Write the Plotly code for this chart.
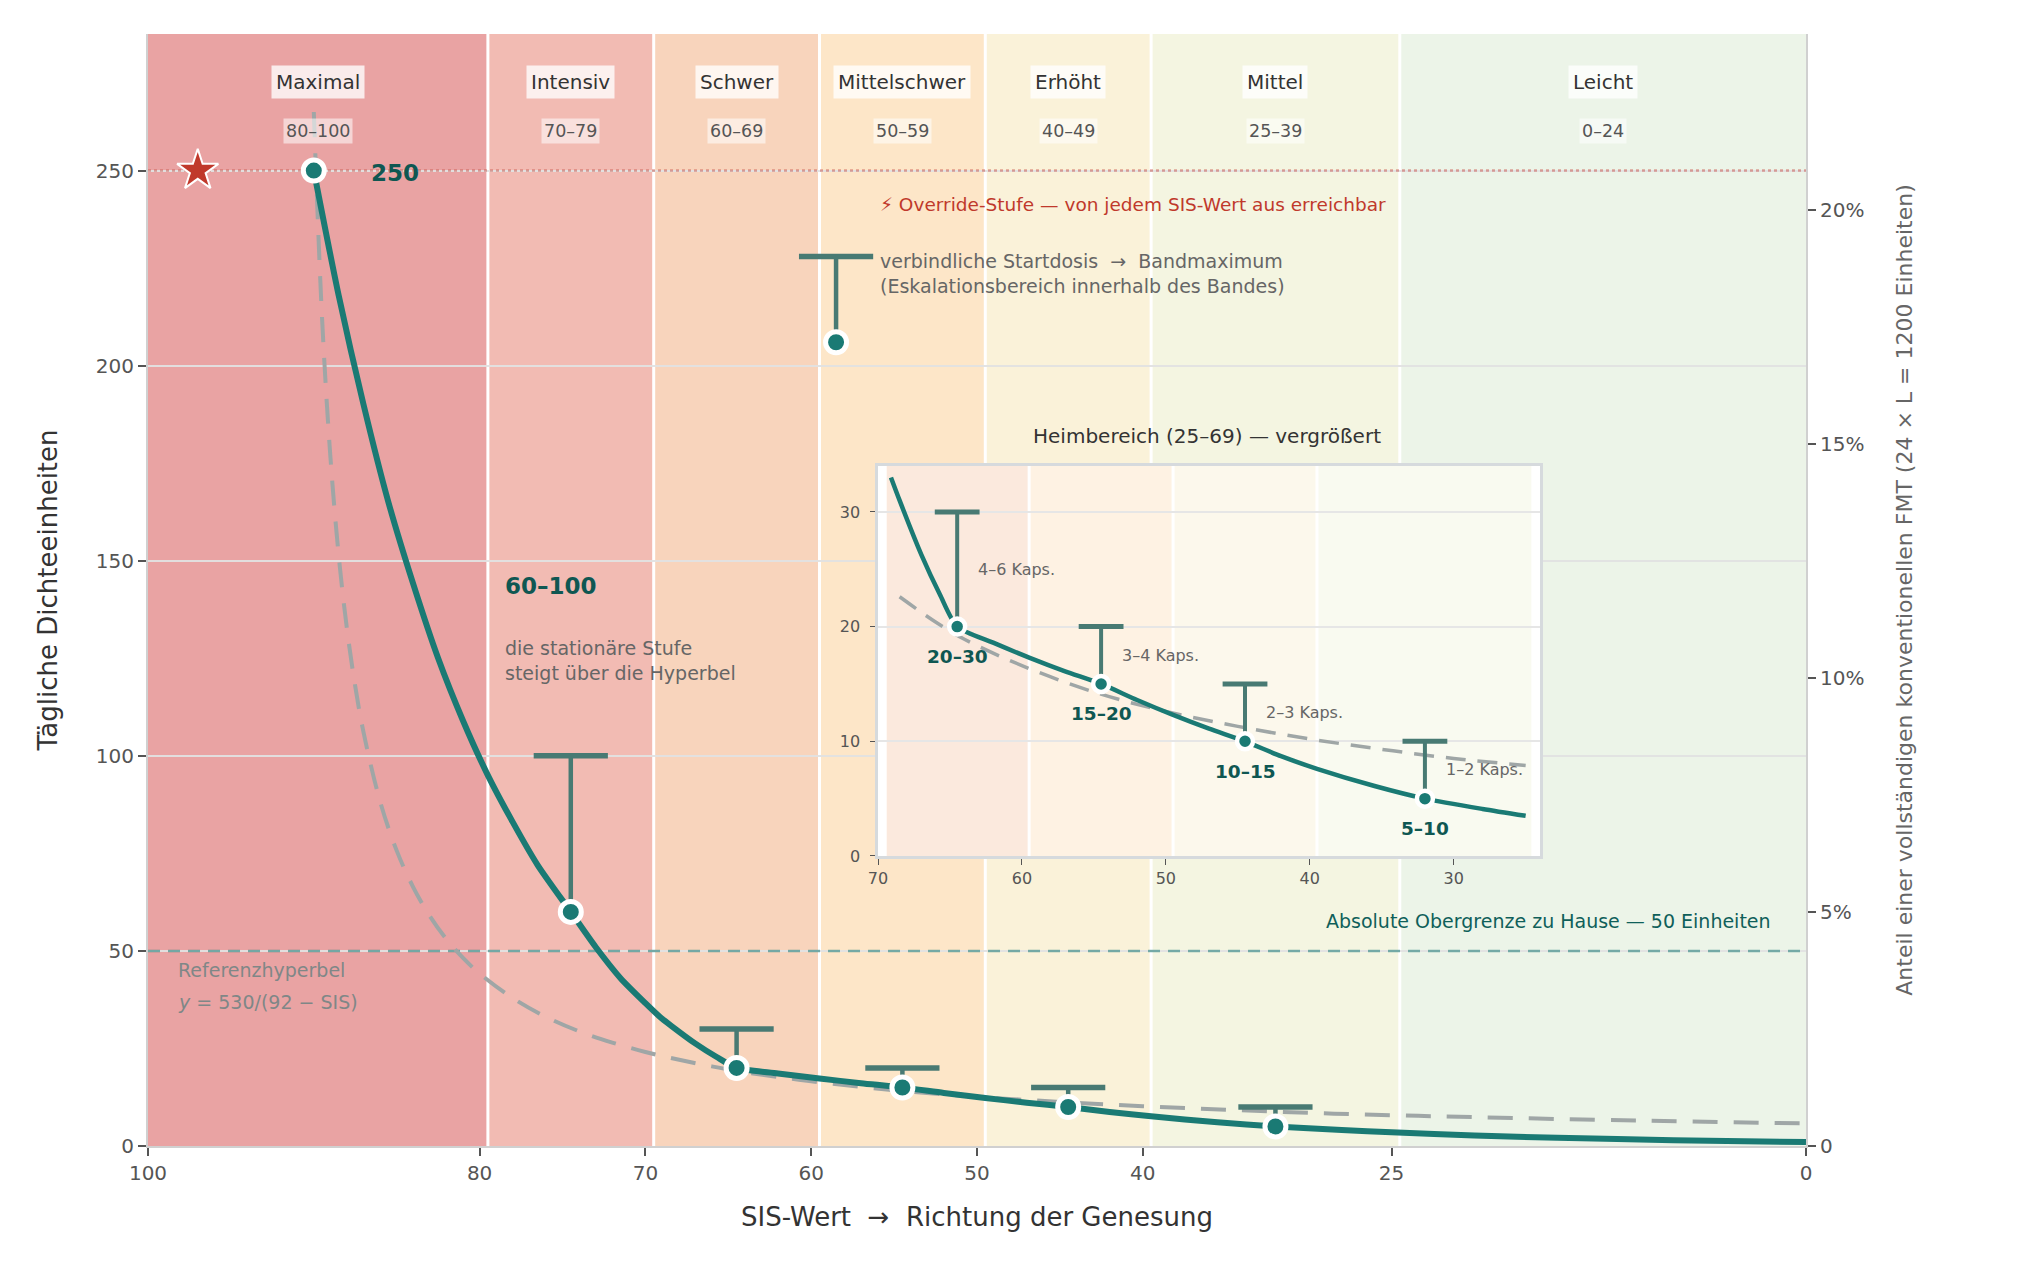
import plotly.graph_objects as go

# SIS bands (score ranges) and their shading
band_names = ["Maximal", "Intensiv", "Schwer", "Mittelschwer", "Erhöht", "Mittel", "Leicht"]
band_ranges = ["80–100", "70–79", "60–69", "50–59", "40–49", "25–39", "0–24"]
band_lo = [79.5, 69.5, 59.5, 49.5, 39.5, 24.5, 0]
band_hi = [100, 79.5, 69.5, 59.5, 49.5, 39.5, 24.5]
band_colors = ["#e9a3a3", "#f2bbb3", "#f8d4bc", "#fde6c8", "#faf2d9", "#f4f5e1", "#ecf4e8"]

# dose per band: starting dose and band maximum
stufe_sis = [90, 74.5, 64.5, 54.5, 44.5, 32]
stufe_start = [250, 60, 20, 15, 10, 5]
stufe_max = [250, 100, 30, 20, 15, 10]
home_labels = ["20–30", "15–20", "10–15", "5–10"]
kaps_labels = ["4–6 Kaps.", "3–4 Kaps.", "2–3 Kaps.", "1–2 Kaps."]

# stationary dose curve
curve_sis = [90, 88.5, 87, 85.5, 84, 82.5, 81, 79.5, 78, 76.5, 74.5, 73, 71.5, 70, 69.1,
             68.5, 67, 65.7, 64.5, 62, 59.5, 57, 54.5, 52, 49.5, 47, 44.5, 42, 39.5, 35.5,
             32, 28, 25, 20, 15, 8, 0]
curve_y = [250, 218, 190, 165, 144, 125, 109, 95, 83, 72, 60, 51, 43, 36.6, 33,
           31, 26.3, 22.8, 20, 18.6, 17.3, 16.1, 15, 13.6, 12.3, 11.1, 10, 8.7, 7.6, 6.1,
           5, 4.1, 3.5, 2.7, 2.1, 1.5, 1.0]

# reference hyperbola y = 530/(92 - SIS)
hyp_sis = [90, 89.5, 89, 88.5, 88, 87.5, 87, 86, 85, 84, 83, 82, 81, 80, 78, 76, 74, 72,
           70, 68.5, 66, 64, 60, 55, 50, 45, 40, 35, 30, 25, 20, 10, 0]
hyp_y = [265, 212, 176.7, 151.4, 132.5, 117.8, 106, 88.3, 75.7, 66.3, 58.9, 53, 48.2, 44.2,
         37.9, 33.1, 29.4, 26.5, 24.1, 22.6, 20.4, 18.9, 16.6, 14.3, 12.6, 11.3, 10.2, 9.3,
         8.5, 7.9, 7.4, 6.5, 5.8]

# explanation glyph for the range bar
legend_sis = [58.5]
legend_lo = [206]
legend_hi = [228]

override_sis = [97]
override_y = [250]

TEAL = "#1a7a74"
DARK_TEAL = "#0f5752"
BAR = "#487a73"
HYP = "#9fa6a6"
GRAY = "#666666"


def stems(xs, lo, hi):
    px, py = [], []
    for s, a, b in zip(xs, lo, hi):
        px += [s, s, None]
        py += [a, b, None]
    return px, py


fig = go.Figure()

shapes = []
for lo, hi, c in zip(band_lo, band_hi, band_colors):
    shapes.append(dict(type="rect", xref="x", yref="y", x0=lo, x1=hi, y0=0, y1=285,
                       fillcolor=c, line_width=0, layer="below"))
for b in band_lo[:-1]:
    shapes.append(dict(type="line", xref="x", yref="y", x0=b, x1=b, y0=0, y1=285,
                       line=dict(color="white", width=3), layer="below"))
shapes.append(dict(type="line", xref="x", yref="y", x0=100, x1=0, y0=250, y1=250,
                   line=dict(color="rgba(200,80,70,0.5)", width=2.5, dash="dot"), layer="between"))
shapes.append(dict(type="line", xref="x", yref="y", x0=100, x1=0, y0=50, y1=50,
                   line=dict(color="rgba(26,122,116,0.55)", width=2.5, dash="12px,8px"), layer="between"))

# inset background and bands
shapes.append(dict(type="rect", xref="x2", yref="y2", x0=70, x1=24, y0=0, y1=34,
                   fillcolor="white", line_width=0, layer="below"))
for lo, hi, c in zip(band_lo[2:6], band_hi[2:6], band_colors[2:6]):
    shapes.append(dict(type="rect", xref="x2", yref="y2", x0=lo, x1=hi, y0=0, y1=34,
                       fillcolor=c, opacity=0.5, line_width=0, layer="below"))
for b in band_lo[1:6]:
    shapes.append(dict(type="line", xref="x2", yref="y2", x0=b, x1=b, y0=0, y1=34,
                       line=dict(color="white", width=3), layer="below"))

# main traces
fig.add_trace(go.Scatter(x=hyp_sis, y=hyp_y, mode="lines", hoverinfo="skip",
                         line=dict(color=HYP, width=4, dash="25px,16px", shape="spline")))
fig.add_trace(go.Scatter(x=curve_sis, y=curve_y, mode="lines", hoverinfo="skip",
                         line=dict(color=TEAL, width=6, shape="spline", smoothing=0.7)))

bx, by = stems(stufe_sis[1:] + legend_sis, stufe_start[1:] + legend_lo, stufe_max[1:] + legend_hi)
fig.add_trace(go.Scatter(x=bx, y=by, mode="lines", hoverinfo="skip",
                         line=dict(color=BAR, width=4.5)))
fig.add_trace(go.Scatter(x=stufe_sis[1:] + legend_sis, y=stufe_max[1:] + legend_hi, mode="markers",
                         hoverinfo="skip",
                         marker=dict(symbol="line-ew", size=53, line=dict(color=BAR, width=5.5))))
fig.add_trace(go.Scatter(x=stufe_sis + legend_sis, y=stufe_start + legend_lo, mode="markers",
                         marker=dict(size=21, color=TEAL, line=dict(color="white", width=5))))
fig.add_trace(go.Scatter(x=override_sis, y=override_y, mode="markers",
                         marker=dict(symbol="star", size=31, color="#c0392b",
                                     line=dict(color="white", width=2))))
fig.add_trace(go.Scatter(x=[0], y=[0], yaxis="y3", mode="markers",
                         marker=dict(size=1, color="rgba(0,0,0,0)"), hoverinfo="skip"))

# inset traces
in_curve = [(s, v) for s, v in zip(curve_sis, curve_y) if 25 <= s <= 69.1]
in_hyp = [(s, v) for s, v in zip(hyp_sis, hyp_y) if 25 <= s <= 68.5]
fig.add_trace(go.Scatter(x=[p[0] for p in in_hyp], y=[p[1] for p in in_hyp], xaxis="x2", yaxis="y2",
                         mode="lines", hoverinfo="skip",
                         line=dict(color=HYP, width=3.5, dash="20px,12px", shape="spline")))
fig.add_trace(go.Scatter(x=[p[0] for p in in_curve], y=[p[1] for p in in_curve], xaxis="x2", yaxis="y2",
                         mode="lines", hoverinfo="skip",
                         line=dict(color=TEAL, width=4.5, shape="spline", smoothing=0.7)))
ix, iy = stems(stufe_sis[2:], stufe_start[2:], stufe_max[2:])
fig.add_trace(go.Scatter(x=ix, y=iy, xaxis="x2", yaxis="y2", mode="lines", hoverinfo="skip",
                         line=dict(color=BAR, width=4)))
fig.add_trace(go.Scatter(x=stufe_sis[2:], y=stufe_max[2:], xaxis="x2", yaxis="y2", mode="markers",
                         hoverinfo="skip",
                         marker=dict(symbol="line-ew", size=32, line=dict(color=BAR, width=5))))
fig.add_trace(go.Scatter(x=stufe_sis[2:], y=stufe_start[2:], xaxis="x2", yaxis="y2", mode="markers",
                         marker=dict(size=16, color=TEAL, line=dict(color="white", width=4.5))))

ann = []
for name, rng, lo, hi in zip(band_names, band_ranges, band_lo, band_hi):
    c = (lo + hi) / 2
    ann.append(dict(x=c, y=272.6, text=name, showarrow=False, font=dict(size=20, color="#333"),
                    bgcolor="rgba(255,255,255,0.78)", borderpad=4))
    ann.append(dict(x=c, y=260.2, text=rng, showarrow=False, font=dict(size=17.5, color="#555"),
                    bgcolor="rgba(255,255,255,0.55)", borderpad=2))

ann += [
    dict(x=86.7, y=249.4, text="<b>250</b>", xanchor="left", showarrow=False,
         font=dict(size=23, color=DARK_TEAL)),
    dict(x=78.6, y=143.4, text="<b>60–100</b>", xanchor="left", showarrow=False,
         font=dict(size=23, color=DARK_TEAL)),
    dict(x=78.6, y=124.5, text="die stationäre Stufe<br>steigt über die Hyperbel", xanchor="left",
         align="left", showarrow=False, font=dict(size=19, color=GRAY)),
    dict(x=56, y=241.3, text="⚡ Override-Stufe — von jedem SIS-Wert aus erreichbar", xanchor="left",
         showarrow=False, font=dict(size=18.5, color="#c0392b")),
    dict(x=56, y=223.5,
         text="verbindliche Startdosis\u00a0\u00a0→\u00a0\u00a0Bandmaximum<br>(Eskalationsbereich innerhalb des Bandes)",
         xanchor="left", align="left", showarrow=False, font=dict(size=19, color=GRAY)),
    dict(x=36.1, y=181.9, text="Heimbereich (25–69) — vergrößert", showarrow=False,
         font=dict(size=20, color="#333")),
    dict(x=98.3, y=45.1, text="Referenzhyperbel", xanchor="left", showarrow=False,
         font=dict(size=19, color="#7f8787")),
    dict(x=98.3, y=36.8, text="<i>y</i> = 530/(92 − SIS)", xanchor="left", showarrow=False,
         font=dict(size=19, color="#7f8787")),
    dict(x=2.0, y=57.6, text="Absolute Obergrenze zu Hause — 50 Einheiten", xanchor="right",
         showarrow=False, font=dict(size=19, color="#0f5f5a")),
]
for s, lo, hi, hl, kl in zip(stufe_sis[2:], stufe_start[2:], stufe_max[2:], home_labels, kaps_labels):
    ann.append(dict(x=s, y=lo - 2.6, xref="x2", yref="y2", text="<b>" + hl + "</b>", showarrow=False,
                    font=dict(size=18.5, color=DARK_TEAL)))
    ann.append(dict(x=s - 1.3, y=(lo + hi) / 2, xref="x2", yref="y2", text=kl, xanchor="left",
                    showarrow=False, font=dict(size=16, color=GRAY)))

axis_common = dict(showline=True, linecolor="#d0d0d0", linewidth=2, ticks="outside", ticklen=8,
                   tickwidth=1.5, tickcolor="#555", tickfont=dict(size=20, color="#555"), zeroline=False)

fig.update_layout(
    width=2039, height=1280,
    margin=dict(l=148, r=233, t=34, b=134),
    paper_bgcolor="white", plot_bgcolor="white",
    font=dict(family="DejaVu Sans", color="#333"),
    showlegend=False,
    shapes=shapes,
    annotations=ann,
    xaxis=dict(range=[100, 0], tickvals=[100, 80, 70, 60, 50, 40, 25, 0], showgrid=False,
               title=dict(text="SIS-Wert\u00a0\u00a0→\u00a0\u00a0Richtung der Genesung",
                          font=dict(size=26, color="#333"), standoff=24), **axis_common),
    yaxis=dict(range=[0, 285], tickvals=[0, 50, 100, 150, 200, 250], showgrid=True,
               gridcolor="rgba(226,226,226,0.95)", gridwidth=2,
               title=dict(text="Tägliche Dichteeinheiten", font=dict(size=26, color="#333"), standoff=31),
               **axis_common),
    yaxis3=dict(overlaying="y", side="right", anchor="x", range=[0, 285 / 1200],
                tickvals=[0, 0.05, 0.1, 0.15, 0.2], ticktext=["0", "5%", "10%", "15%", "20%"],
                showgrid=False,
                title=dict(text="Anteil einer vollständigen konventionellen FMT (24 × L = 1200 Einheiten)",
                           font=dict(size=22, color="#666"), standoff=33),
                **axis_common),
    xaxis2=dict(domain=[0.4403, 0.8396], anchor="y2", range=[70, 24], tickvals=[70, 60, 50, 40, 30],
                showgrid=False, showline=True, linecolor="#d6dadd", linewidth=2.5, mirror=True,
                ticks="outside", ticklen=6, tickcolor="#555", tickfont=dict(size=16, color="#555"),
                zeroline=False),
    yaxis2=dict(domain=[0.2608, 0.6115], anchor="x2", range=[0, 34], tickvals=[0, 10, 20, 30],
                showgrid=True, gridcolor="#e6e6e6", gridwidth=2, showline=True, linecolor="#d6dadd",
                linewidth=2.5, mirror=True, ticks="outside", ticklen=5, tickcolor="#555",
                tickfont=dict(size=16, color="#555"), ticklabelstandoff=7, zeroline=False),
)

fig.write_html("out.html", config={"displayModeBar": False},
               post_script="document.body.style.margin='0px';")
